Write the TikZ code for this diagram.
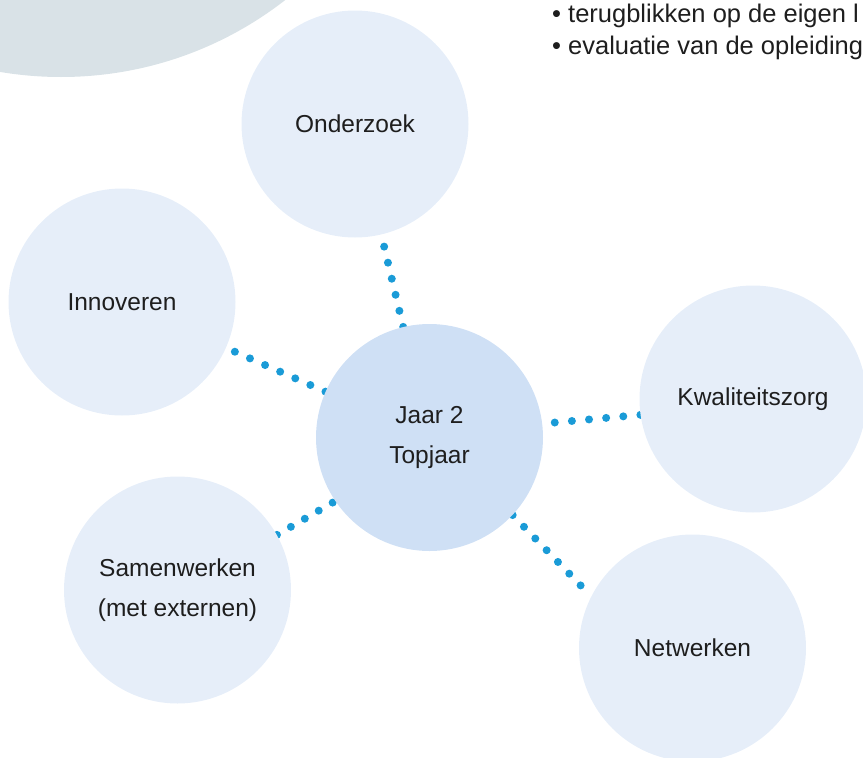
\documentclass[tikz,border=0pt]{standalone}
\usepackage{fontspec}
\setmainfont{Liberation Sans}
\pgfdeclarelayer{lines}
\pgfsetlayers{lines,main}
\definecolor{bubble}{RGB}{230,238,249}
\definecolor{hub}{RGB}{207,224,245}
\definecolor{greyblob}{RGB}{217,226,231}
\definecolor{dotblue}{RGB}{26,155,215}
\definecolor{ink}{RGB}{30,30,30}
\tikzset{
  bubblenode/.style={circle, minimum size=227pt, inner sep=0pt, fill=bubble, text=ink,
    align=center, font=\fontsize{24.5}{40}\selectfont},
  hubnode/.style={bubblenode, fill=hub},
  dotline/.style={draw=dotblue, line width=8pt, line cap=round, dash pattern=on 0pt off #1},
  dotline/.default=16.5pt,
  toptext/.style={anchor=base west, text=ink, font=\fontsize{25.5}{30}\selectfont, inner sep=0pt}
}
\begin{document}
\begin{tikzpicture}[x=1pt,y=-1pt]
\useasboundingbox (0,0) rectangle (863,758);
\clip (0,0) rectangle (863,758);
\fill[greyblob] (61,-288) circle (365pt);
\node[toptext] (t1) at (552,22) {• terugblikken op de eigen l};
\node[toptext] (t2) at (552,54) {• evaluatie van de opleiding};
\node[bubblenode] (ond) at (355,124) {Onderzoek};
\node[bubblenode] (inn) at (122,302) {Innoveren};
\node[bubblenode] (kwal) at (753,399) {Kwaliteitszorg};
\node[bubblenode] (sam) at (177.5,590) {Samenwerken\\(met externen)};
\node[bubblenode] (netw) at (692.5,648) {Netwerken};
\node[hubnode] (jaar) at (429.5,437.5) {Jaar 2\\Topjaar};
\begin{pgfonlayer}{lines}
\draw[dotline] (jaar) -- (ond);
\draw[dotline] (jaar) -- (inn);
\draw[dotline=17.2pt] (kwal.188) -- (jaar.7);
\draw[dotline=16.1pt] (sam.29) -- (jaar.214);
\draw[dotline=16.3pt] (jaar.-43) -- (netw.153);
\end{pgfonlayer}
\end{tikzpicture}
\end{document}
